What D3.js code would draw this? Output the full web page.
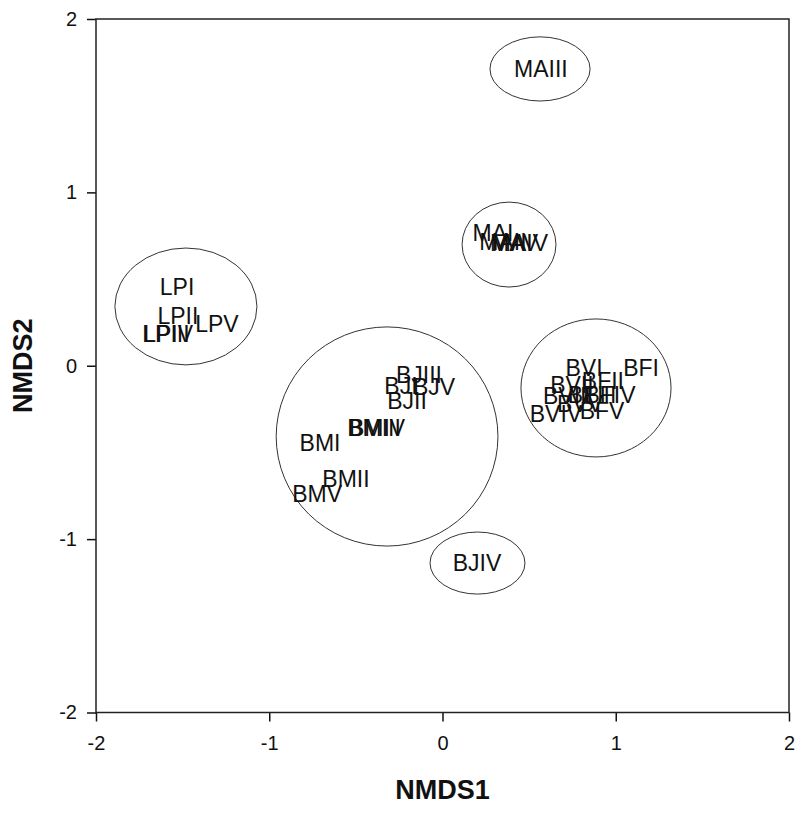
<!DOCTYPE html>
<html>
<head>
<meta charset="utf-8">
<script src="https://cdn.jsdelivr.net/npm/d3@7"></script>
<style>
  html, body { margin: 0; padding: 0; background: #fff; }
  svg { display: block; }
  text { font-family: Arial, "Liberation Sans", sans-serif; fill: #111; }
</style>
</head>
<body>
<svg id="chart" width="797" height="814"></svg>
<script>
// ---- data ----
const sampleLabels = ["LPI","LPII","LPIII","LPIV","LPV",
  "MAI","MAII","MAIII","MAIV","MAV",
  "BJI","BJII","BJIII","BJIV","BJV",
  "BMI","BMII","BMIII","BMIV","BMV",
  "BVI","BVII","BVIII","BVIV","BVV",
  "BFI","BFII","BFIII","BFIV","BFV"];
const nmds1 = [-1.532,-1.527,-1.596,-1.584,-1.302,
  0.291,0.349,0.568,0.447,0.413,
  -0.240,-0.205,-0.136,0.199,-0.049,
  -0.707,-0.557,-0.395,-0.378,-0.724,
  0.817,0.747,0.724,0.655,0.794,
  1.146,0.926,0.863,0.967,0.921];
const nmds2 = [0.454,0.287,0.183,0.183,0.241,
  0.766,0.714,1.712,0.708,0.708,
  -0.117,-0.203,-0.053,-1.138,-0.122,
  -0.445,-0.653,-0.359,-0.359,-0.740,
  -0.013,-0.111,-0.174,-0.278,-0.220,
  -0.013,-0.088,-0.168,-0.168,-0.261];

// ellipses (group envelopes)
const ellipseCx = [0.563, 0.384, -1.481, -0.320, 0.886, 0.202];
const ellipseCy = [1.712, 0.699, 0.342, -0.408, -0.128, -1.138];
const ellipseRx = [0.289, 0.271, 0.410, 0.640, 0.433, 0.274];
const ellipseRy = [0.185, 0.245, 0.337, 0.632, 0.398, 0.179];

const xTicks = [-2, -1, 0, 1, 2];
const yTicks = [-2, -1, 0, 1, 2];
const xTitle = "NMDS1";
const yTitle = "NMDS2";

// ---- drawing ----
const svg = d3.select("#chart");
const mLeft = 96, mRight = 789, mTop = 19, mBottom = 712.5;
const x = d3.scaleLinear().domain([-2, 2]).range([mLeft, mRight]);
const y = d3.scaleLinear().domain([-2, 2]).range([mBottom, mTop]);

// ellipses
const ells = ellipseCx.map((cx, i) => ({cx, cy: ellipseCy[i], rx: ellipseRx[i], ry: ellipseRy[i]}));
svg.append("g").selectAll("ellipse").data(ells).join("ellipse")
  .attr("cx", d => x(d.cx))
  .attr("cy", d => y(d.cy))
  .attr("rx", d => x(d.rx) - x(0))
  .attr("ry", d => y(0) - y(d.ry))
  .attr("fill", "none")
  .attr("stroke", "#333")
  .attr("stroke-width", 1);

// labels
const pts = sampleLabels.map((l, i) => ({l, a: nmds1[i], b: nmds2[i]}));
svg.append("g").selectAll("text").data(pts).join("text")
  .attr("x", d => x(d.a))
  .attr("y", d => y(d.b))
  .attr("dy", "0.35em")
  .attr("text-anchor", "middle")
  .attr("font-size", 23)
  .attr("fill", "#1a1a1a")
  .text(d => d.l);

// axes
const xAxis = d3.axisBottom(x).tickValues(xTicks).tickSize(9).tickSizeOuter(0)
  .tickPadding(14).tickFormat(d => String(d));
const yAxis = d3.axisLeft(y).tickValues(yTicks).tickSize(9).tickSizeOuter(0)
  .tickPadding(10).tickFormat(d => String(d));

const gx = svg.append("g").attr("transform", `translate(0,${mBottom})`).call(xAxis);
const gy = svg.append("g").attr("transform", `translate(${mLeft},0)`).call(yAxis);
[gx, gy].forEach(g => {
  g.select(".domain").remove();
  g.selectAll(".tick line").attr("stroke", "#111").attr("stroke-width", 1.5);
  g.selectAll(".tick text").attr("font-size", 20).attr("fill", "#111")
    .style("font-family", "Arial, 'Liberation Sans', sans-serif");
});

// frame
svg.append("rect")
  .attr("x", mLeft).attr("y", mTop)
  .attr("width", mRight - mLeft).attr("height", mBottom - mTop)
  .attr("fill", "none").attr("stroke", "#222").attr("stroke-width", 1.5);

// titles
svg.append("text")
  .attr("x", (mLeft + mRight) / 2).attr("y", 799)
  .attr("text-anchor", "middle")
  .attr("font-size", 27).attr("font-weight", "bold")
  .text(xTitle);
svg.append("text")
  .attr("transform", `translate(32,${(mTop + mBottom) / 2}) rotate(-90)`)
  .attr("text-anchor", "middle")
  .attr("font-size", 27).attr("font-weight", "bold")
  .text(yTitle);
</script>
</body>
</html>
